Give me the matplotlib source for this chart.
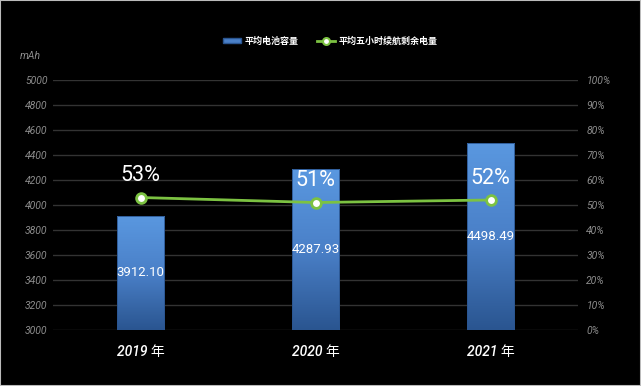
import matplotlib
matplotlib.use("Agg")
import matplotlib.pyplot as plt
import numpy as np
from matplotlib.colors import LinearSegmentedColormap
from matplotlib.patches import Rectangle
from matplotlib.lines import Line2D

categories = ["2019 年", "2020 年", "2021 年"]
capacity = [3912.10, 4287.93, 4498.49]
remaining = [53, 51, 52]
left_ticks = [3000, 3200, 3400, 3600, 3800, 4000, 4200, 4400, 4600, 4800, 5000]
right_ticks = [0, 10, 20, 30, 40, 50, 60, 70, 80, 90, 100]

cjk = ["Noto Sans CJK SC", "DejaVu Sans"]
narrow = ["Roboto", "Noto Sans CJK SC", "DejaVu Sans"]

fig = plt.figure(figsize=(6.41, 3.86), dpi=100, facecolor="black")
ax = fig.add_axes([53/641, 1-330/386, 525/641, 250/386])
ax.set_facecolor("black")
ax2 = ax.twinx()

x = np.arange(len(categories))
bw = 0.274
cmap = LinearSegmentedColormap.from_list("b", ["#2a5590", "#4a80c8", "#5a98e0"])
bars = ax.bar(x, capacity, width=bw, bottom=0, color="none", edgecolor="#2a5590", linewidth=0.6, zorder=3)
grad = np.linspace(0, 1, 256).reshape(-1, 1)
for b in bars:
    x0 = b.get_x(); w = b.get_width(); h = b.get_height()
    im = ax.imshow(grad, cmap=cmap, origin="lower", aspect="auto",
                   extent=[x0, x0 + w, 3000, h], zorder=2)
    im.set_clip_path(b)
ax.set_xlim(-0.5, 2.5)
ax.set_ylim(3000, 5000)

for xi, v in zip(x, capacity):
    ax.text(xi, (3000 + v) / 2, f"{v:.2f}", color="white", fontsize=9.5,
            ha="center", va="center", family=narrow, zorder=5)

ax.set_yticks(left_ticks)
ax.set_yticklabels([str(t) for t in left_ticks], family=narrow, style="italic")
ax.grid(axis="y", color="#333333", linewidth=1, zorder=0)
ax.set_axisbelow(True)
ax.tick_params(axis="y", colors="#8c8c8c", labelsize=7.5, length=0, pad=4)
ax.set_xticks(x)
ax.set_xticklabels(categories, family=narrow, color="white",
                   fontsize=10, style="italic", weight="medium")
ax.tick_params(axis="x", length=0, pad=11)
for s in ax.spines.values():
    s.set_visible(False)

ax2.set_ylim(0, 100)
ax2.plot(x, remaining, color="#7cc242", linewidth=2, marker="o", markersize=7,
         markerfacecolor="white", markeredgecolor="#7cc242", markeredgewidth=2, zorder=6)
for xi, v in zip(x, remaining):
    ax2.text(xi, v + 4.5, f"{v}%", color="white", fontsize=15.5, ha="center",
             va="bottom", family=narrow, zorder=7)
ax2.set_yticks(right_ticks)
ax2.set_yticklabels([f"{t}%" for t in right_ticks], family=narrow, style="italic")
ax2.tick_params(axis="y", colors="#8c8c8c", labelsize=7.5, length=0, pad=6)
for s in ax2.spines.values():
    s.set_visible(False)

fig.text(30/641, 1-56/386, "mAh", color="#8c8c8c", fontsize=7.5, ha="center", va="center",
         family=narrow, style="italic")

h1 = Rectangle((0, 0), 1, 1, facecolor="#4a80c8", edgecolor="#2a5590")
h2 = Line2D([0], [0], color="#7cc242", linewidth=2, marker="o", markersize=5,
            markerfacecolor="white", markeredgecolor="#7cc242", markeredgewidth=1.5)
leg = fig.legend([h1, h2], ["平均电池容量", "平均五小时续航剩余电量"], loc="center",
                 bbox_to_anchor=(330/641, 1-41/386), ncol=2, frameon=False,
                 prop={"family": cjk, "size": 6.5, "weight": "bold"}, labelcolor="white",
                 handlelength=2.0, handleheight=0.5, columnspacing=2.0, handletextpad=0.4)

fig.add_artist(Rectangle((0, 0), 1, 1, transform=fig.transFigure, fill=False,
                         edgecolor="#bbbbbb", linewidth=1.5))
fig.savefig("out.png", dpi=100, facecolor="black")
